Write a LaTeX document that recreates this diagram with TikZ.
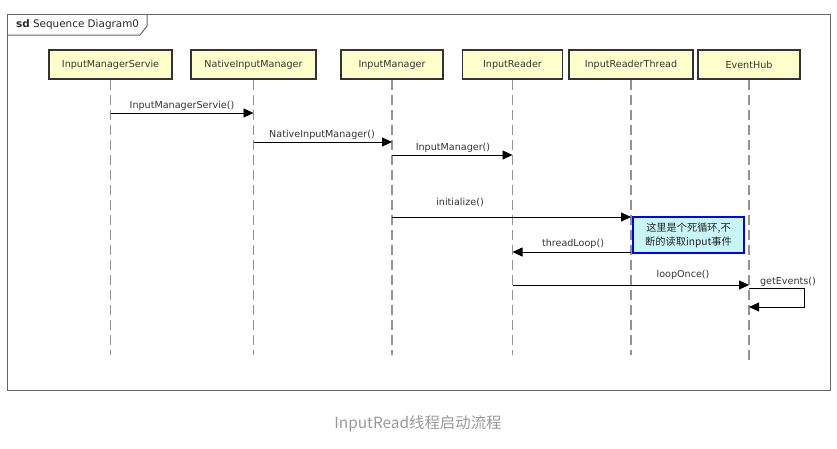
\documentclass[tikz,border=0pt]{standalone}
\usepackage{fontspec}
\setmainfont{DejaVu Sans}
\newfontfamily\cjk{Noto Sans CJK SC}
\usetikzlibrary{arrows.meta}
\definecolor{boxfill}{HTML}{FFFFCC}
\definecolor{notefill}{HTML}{C8F6F6}
\definecolor{txt}{HTML}{333333}
\definecolor{capgray}{HTML}{999999}
\begin{document}
\begin{tikzpicture}[x=1pt,y=-1pt,
  participant/.style={draw=black!80, line width=1.5pt, fill=boxfill, minimum height=29pt,
    inner sep=0pt, text=txt, font=\fontsize{9.6}{11}\selectfont},
  lifeline/.style={draw=gray!85, dash pattern=on 10pt off 5pt, line width=1.1pt},
  msg/.style={draw=black, line width=0.8pt, -{Triangle[length=10pt,width=9pt]}},
  lbl/.style={inner sep=0pt, text=txt, font=\fontsize{9.6}{11}\selectfont},
  notebox/.style={draw=blue, line width=1.2pt, fill=notefill, minimum width=111pt, minimum height=36pt,
    inner sep=0pt, align=center, font=\cjk\fontsize{10.2}{14}\selectfont, text=black!85}
]
\useasboundingbox (0,0) rectangle (837,448);
% frame
\draw[draw=black!60, line width=1pt] (7,14) rectangle (830,390);
\draw[draw=black!60, line width=1pt] (7,35) -- (140,35) -- (147,26) -- (147,14);
\node[anchor=west, inner sep=0pt, font=\fontsize{10.4}{12}\selectfont, text=black!85] (title) at (16,25) {\textbf{sd} Sequence Diagram0};

% participants
\node[participant, minimum width=123pt] (p1) at (110.5,64.5) {InputManagerServie};
\node[participant, minimum width=125pt] (p2) at (253.5,64.5) {NativeInputManager};
\node[participant, minimum width=102pt] (p3) at (392,64.5) {InputManager};
\node[participant, minimum width=100pt] (p4) at (512.5,64.5) {InputReader};
\node[participant, minimum width=124pt] (p5) at (631,64.5) {InputReaderThread};
\node[participant, minimum width=102pt] (p6) at (749,64.5) {EventHub};

% lifeline ends
\coordinate (e1) at (110.5,355);
\coordinate (e2) at (253.5,355);
\coordinate (e3) at (392,355);
\coordinate (e4) at (512.5,355);
\coordinate (e5) at (631,355);
\coordinate (e6) at (749,362);
\foreach \i in {1,...,6} \draw[lifeline] (p\i.south) -- (e\i);

% message end points
\coordinate (a1) at (110.5,113); \coordinate (b1) at (253.5,113);
\coordinate (a2) at (253.5,142); \coordinate (b2) at (392,142);
\coordinate (a3) at (392,155);   \coordinate (b3) at (512.5,155);
\coordinate (a4) at (392,217);   \coordinate (b4) at (631,217);
\coordinate (a5) at (631,252);   \coordinate (b5) at (512.5,252);
\coordinate (a6) at (512.5,285); \coordinate (b6) at (749,285);
\coordinate (a7) at (749,288);   \coordinate (c7) at (804,288);
\coordinate (d7) at (804,307);   \coordinate (b7) at (749,307);

\draw[msg] (a1) -- (b1);
\draw[msg] (a2) -- (b2);
\draw[msg] (a3) -- (b3);
\draw[msg] (a4) -- (b4);
\draw[msg] (a5) -- (b5);
\draw[msg] (a6) -- (b6);
\draw[msg] (a7) -- (c7) -- (d7) -- (b7);

\node[lbl] (l1) at (182,105.5) {InputManagerServie()};
\node[lbl] (l2) at (322,134.5) {NativeInputManager()};
\node[lbl] (l3) at (453,147.5) {InputManager()};
\node[lbl] (l4) at (460,202) {initialize()};
\node[lbl] (l5) at (573,244) {threadLoop()};
\node[lbl] (l6) at (683,275) {loopOnce()};
\node[lbl] (l7) at (788,282) {getEvents()};

% note
\node[notebox] (note) at (688.5,235) {这里是个死循环,不\\断的读取input事件};

% caption
\node[inner sep=0pt, font=\cjk\fontsize{15.4}{18}\selectfont, text=capgray] (cap) at (418,424) {InputRead线程启动流程};
\end{tikzpicture}
\end{document}
